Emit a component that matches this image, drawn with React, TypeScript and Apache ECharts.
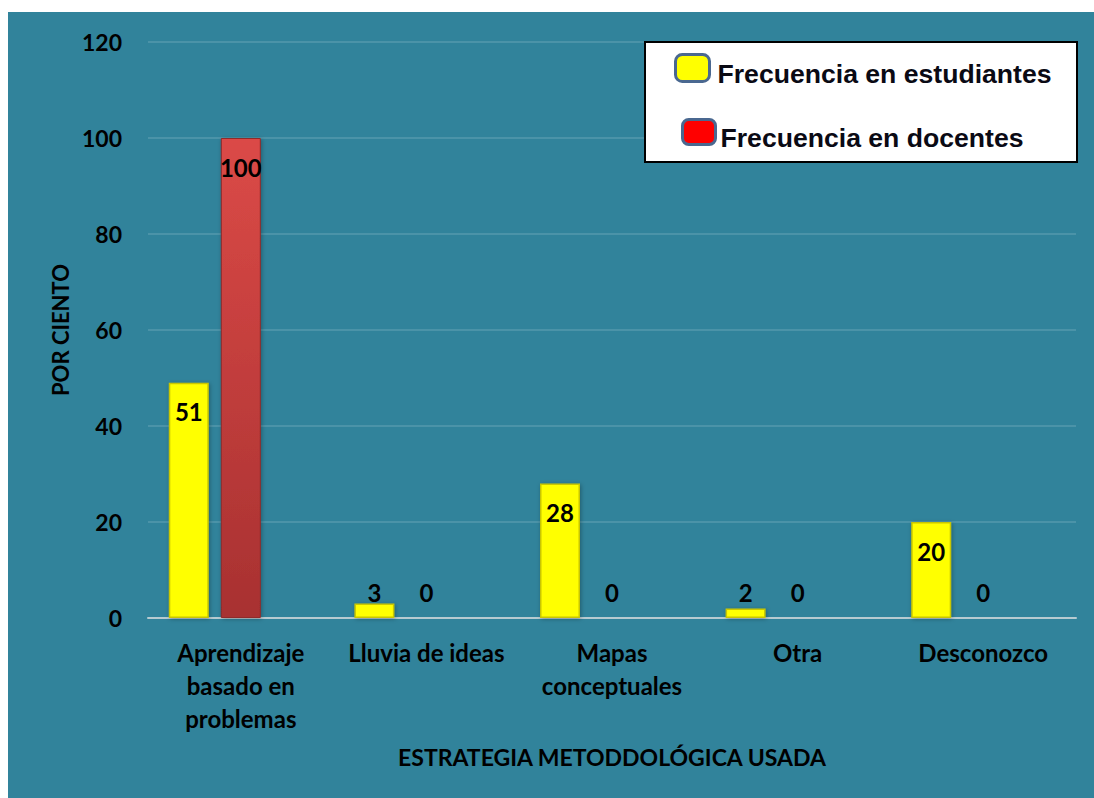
import React, { useEffect, useRef } from "react";
import * as echarts from "echarts";

const categories = [
  "Aprendizaje\nbasado en\nproblemas",
  "Lluvia de ideas",
  "Mapas\nconceptuales",
  "Otra",
  "Desconozco",
];
const studentValues = [49, 3, 28, 2, 20];
const studentLabels = ["51", "3", "28", "2", "20"];
const teacherValues = [100, 0, 0, 0, 0];
const teacherLabels = ["100", "0", "0", "0", "0"];
const yTicks = { min: 0, max: 120, interval: 20 };
const seriesNames = ["Frecuencia en estudiantes", "Frecuencia en docentes"];

const FONT = "Lato";

function labelFor(v: number) {
  return v >= 10
    ? { position: "insideTop", distance: 17 }
    : { position: "insideBottom", distance: 14 };
}

const legendText = (padTop: number, padLeft: number) => ({
  fontFamily: "Liberation Sans",
  fontWeight: "bold",
  fontSize: 26.6,
  color: "#0a0a14",
  rich: {
    t: {
      fontFamily: "Liberation Sans",
      fontWeight: "bold",
      fontSize: 26.6,
      color: "#0a0a14",
      padding: [padTop, 0, 0, padLeft],
    },
  },
});

export default function App() {
  const ref = useRef<HTMLDivElement>(null);
  useEffect(() => {
    if (!ref.current) return;
    const chart = echarts.init(ref.current, undefined, { renderer: "svg" });
    const labelStyle = {
      show: true,
      color: "#000",
      fontFamily: FONT,
      fontWeight: "bold",
      fontSize: 24,
    };
    chart.setOption({
      animation: false,
      backgroundColor: "#ffffff",
      graphic: [
        {
          type: "rect",
          z: -10,
          shape: { x: 8, y: 12, width: 1086, height: 786 },
          style: { fill: "#31839b" },
          silent: true,
        },
        {
          type: "rect",
          z: 3,
          shape: { x: 645, y: 42, width: 432, height: 120 },
          style: { fill: "#ffffff", stroke: "#000000", lineWidth: 2 },
          silent: true,
        },
      ],
      legend: [
        {
          left: 674,
          top: 53,
          padding: 0,
          itemWidth: 34,
          itemHeight: 27,
          icon: "roundRect",
          formatter: "{t|{name}}",
          data: [
            {
              name: seriesNames[0],
              itemStyle: { color: "#ffff00", borderColor: "#4a6890", borderWidth: 3 },
            },
          ],
          textStyle: legendText(12, 3),
        },
        {
          left: 681,
          top: 118,
          padding: 0,
          itemWidth: 33,
          itemHeight: 25,
          icon: "roundRect",
          formatter: "{t|{name}}",
          data: [
            {
              name: seriesNames[1],
              itemStyle: { color: "#ff0000", borderColor: "#4a6890", borderWidth: 3 },
            },
          ],
          textStyle: legendText(11, 0),
        },
      ],
      grid: { left: 148, right: 18, top: 42, bottom: 180, containLabel: false },
      xAxis: {
        type: "category",
        data: categories,
        axisLine: { show: true, lineStyle: { color: "#b7cbd1", width: 2 } },
        axisTick: { show: false },
        axisLabel: {
          color: "#000",
          fontFamily: FONT,
          fontWeight: "bold",
          fontSize: 24,
          lineHeight: 33,
          margin: 18,
          interval: 0,
        },
        name: "ESTRATEGIA METODDOLÓGICA USADA",
        nameLocation: "middle",
        nameGap: 127,
        nameTextStyle: {
          color: "#000",
          fontFamily: FONT,
          fontWeight: "bold",
          fontSize: 23,
        },
      },
      yAxis: {
        type: "value",
        min: yTicks.min,
        max: yTicks.max,
        interval: yTicks.interval,
        axisLine: { show: false },
        axisTick: { show: false },
        splitLine: { lineStyle: { color: "rgba(255,255,255,0.13)", width: 2 } },
        axisLabel: {
          color: "#000",
          fontFamily: FONT,
          fontWeight: "bold",
          fontSize: 23,
          margin: 26,
        },
        name: "POR CIENTO",
        nameLocation: "middle",
        nameRotate: 90,
        nameGap: 77,
        nameTextStyle: {
          color: "#000",
          fontFamily: FONT,
          fontWeight: "bold",
          fontSize: 22,
        },
      },
      series: [
        {
          name: seriesNames[0],
          type: "bar",
          barWidth: 40,
          barGap: "30%",
          data: studentValues.map((v, i) => ({
            value: v,
            label: { ...labelFor(v), formatter: studentLabels[i] },
          })),
          itemStyle: {
            color: "#ffff00",
            borderColor: "#c9c600",
            borderWidth: 1.5,
            shadowBlur: 4,
            shadowOffsetX: 1,
            shadowOffsetY: 1,
            shadowColor: "rgba(0,0,0,0.3)",
          },
          label: labelStyle,
        },
        {
          name: seriesNames[1],
          type: "bar",
          barWidth: 40,
          barGap: "30%",
          data: teacherValues.map((v, i) => ({
            value: v,
            label: { ...labelFor(v), formatter: teacherLabels[i] },
          })),
          itemStyle: {
            color: new echarts.graphic.LinearGradient(0, 0, 0, 1, [
              { offset: 0, color: "#db4a47" },
              { offset: 1, color: "#a83131" },
            ]),
            borderColor: "#8f2a2a",
            borderWidth: 1,
            shadowBlur: 4,
            shadowOffsetX: 1,
            shadowOffsetY: 1,
            shadowColor: "rgba(0,0,0,0.3)",
          },
          label: labelStyle,
        },
        {
          name: "",
          type: "bar",
          barWidth: 40,
          barGap: "30%",
          data: categories.map(() => "-"),
          silent: true,
        },
      ],
    });
    return () => chart.dispose();
  }, []);
  return (
    <div
      ref={ref}
      style={{ position: "absolute", left: 0, top: 0, width: 1094, height: 798 }}
    />
  );
}
